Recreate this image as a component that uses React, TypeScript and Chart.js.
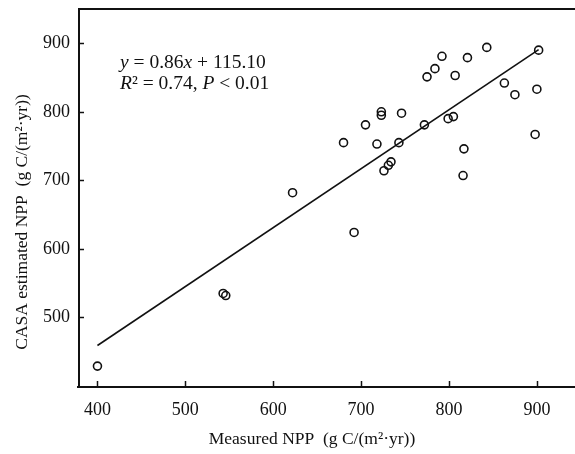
import React, { useEffect, useRef } from "react";
import { Chart, registerables } from "chart.js";

Chart.register(...registerables);

const measuredNPP = [400, 543, 546, 622, 680, 692, 705, 718, 723, 723, 726, 731, 734, 743, 746, 772, 775, 784, 792, 799, 805, 807, 816, 817, 821, 843, 863, 875, 898, 900, 902];
const estimatedNPP = [429, 535, 532, 682, 755, 624, 781, 753, 800, 795, 714, 722, 727, 755, 798, 781, 851, 863, 881, 790, 793, 853, 707, 746, 879, 894, 842, 825, 767, 833, 890];

const slope = 0.86;
const intercept = 115.1;
const fitRange = [400, 902];

const xTicks = [400, 500, 600, 700, 800, 900];
const yTicks = [500, 600, 700, 800, 900];

const xTitle = "Measured NPP  (g C/(m²·yr))";
const yTitle = "CASA estimated NPP  (g C/(m²·yr))";

const eqLine1 = [
  { t: "y", i: true },
  { t: " = 0.86", i: false },
  { t: "x", i: true },
  { t: " + 115.10", i: false },
];
const eqLine2 = [
  { t: "R", i: true },
  { t: "² = 0.74, ", i: false },
  { t: "P", i: true },
  { t: " < 0.01", i: false },
];

const FONT = "'Liberation Serif', 'Times New Roman', serif";

const decorPlugin = {
  id: "decor",
  afterDraw(chart: any) {
    const ctx = chart.ctx;
    const area = chart.chartArea;
    ctx.save();
    ctx.strokeStyle = "#111";
    ctx.lineWidth = 2;
    // top frame line
    ctx.beginPath();
    ctx.moveTo(area.left - 1, Math.round(area.top));
    ctx.lineTo(chart.width, Math.round(area.top));
    ctx.stroke();
    // bottom axis line (full width)
    const by = Math.round(area.bottom) + 1;
    ctx.beginPath();
    ctx.moveTo(area.left - 2, by);
    ctx.lineTo(chart.width, by);
    ctx.stroke();
    ctx.lineWidth = 1.5;
    const xs = chart.scales.x;
    const ys = chart.scales.y;
    xs.ticks.forEach((t: any) => {
      const px = Math.round(xs.getPixelForValue(t.value)) + 0.5;
      ctx.beginPath();
      ctx.moveTo(px, area.bottom);
      ctx.lineTo(px, area.bottom - 5);
      ctx.stroke();
    });
    ys.ticks.forEach((t: any) => {
      const py = Math.round(ys.getPixelForValue(t.value)) + 0.5;
      ctx.beginPath();
      ctx.moveTo(area.left, py);
      ctx.lineTo(area.left + 5, py);
      ctx.stroke();
    });
    ctx.fillStyle = "#111";
    ctx.font = `17.5px ${FONT}`;
    ctx.textAlign = "center";
    ctx.textBaseline = "middle";
    ctx.fillText(xTitle, 312, 439);
    ctx.save();
    ctx.translate(22, 222);
    ctx.rotate(-Math.PI / 2);
    ctx.fillText(yTitle, 0, 0);
    ctx.restore();
    const drawRich = (segs: any[], x: number, y: number) => {
      ctx.textAlign = "left";
      ctx.textBaseline = "alphabetic";
      let cx = x;
      segs.forEach((s) => {
        ctx.font = `${s.i ? "italic " : ""}19.5px ${FONT}`;
        ctx.fillText(s.t, cx, y);
        cx += ctx.measureText(s.t).width;
      });
    };
    drawRich(eqLine1, 120, 68);
    drawRich(eqLine2, 120, 89);
    ctx.restore();
  },
};

export default function App() {
  const ref = useRef<HTMLCanvasElement | null>(null);
  useEffect(() => {
    document.body.style.margin = "0";
    const canvas = ref.current;
    if (!canvas) return;
    const points = measuredNPP.map((x, i) => ({ x, y: estimatedNPP[i] }));
    const fit = fitRange.map((x) => ({ x, y: slope * x + intercept }));
    const chart = new Chart(canvas, {
      type: "scatter",
      data: {
        datasets: [
          {
            label: "Sites",
            data: points,
            pointStyle: "circle",
            pointRadius: 4,
            pointBorderWidth: 1.6,
            borderColor: "#111",
            backgroundColor: "rgba(255,255,255,0)",
          } as any,
          {
            label: "Fit",
            type: "line",
            data: fit,
            showLine: true,
            pointRadius: 0,
            borderColor: "#111",
            borderWidth: 1.6,
            fill: false,
          } as any,
        ],
      },
      options: {
        animation: false,
        responsive: false,
        layout: { padding: { top: 9, left: 0, right: 0, bottom: 0 } },
        plugins: {
          legend: { display: false },
          tooltip: { enabled: false },
        },
        scales: {
          x: {
            type: "linear",
            min: 379,
            max: 937,
            afterBuildTicks: (s: any) => {
              s.ticks = xTicks.map((v) => ({ value: v }));
            },
            afterFit: (s: any) => {
              s.height = 68;
              s.paddingLeft = 0;
              s.paddingRight = 0;
              s.paddingTop = 0;
              s.paddingBottom = 0;
            },
            ticks: {
              color: "#111",
              font: { family: FONT, size: 18 },
              padding: 13,
              maxRotation: 0,
            },
            grid: { drawOnChartArea: false, drawTicks: false },
            border: { display: false },
          },
          y: {
            type: "linear",
            min: 400,
            max: 950,
            afterBuildTicks: (s: any) => {
              s.ticks = yTicks.map((v) => ({ value: v }));
            },
            afterFit: (s: any) => {
              s.width = 79;
              s.paddingLeft = 0;
              s.paddingRight = 0;
              s.paddingTop = 0;
              s.paddingBottom = 0;
            },
            ticks: {
              color: "#111",
              font: { family: FONT, size: 18 },
              padding: 9,
            },
            grid: { drawOnChartArea: false, drawTicks: false },
            border: { color: "#111", width: 2 },
          },
        },
      },
      plugins: [decorPlugin],
    });
    return () => chart.destroy();
  }, []);
  return (
    <div style={{ position: "fixed", left: 0, top: 0, width: 575, height: 454, background: "#fff" }}>
      <canvas ref={ref} width={575} height={454} style={{ display: "block" }} />
    </div>
  );
}
